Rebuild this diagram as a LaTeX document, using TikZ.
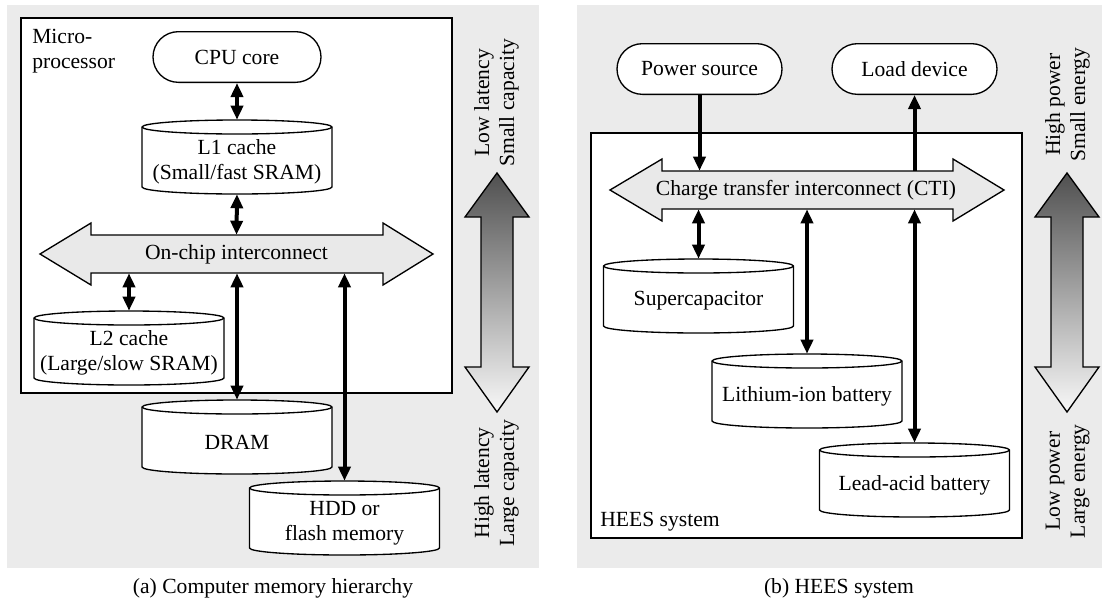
\documentclass[tikz,border=0pt]{standalone}
\usepackage{fontspec}
\setmainfont{Liberation Serif}
\usetikzlibrary{arrows.meta,shapes.misc}

\definecolor{panelgray}{HTML}{EBEBEB}
\definecolor{busgray}{HTML}{E9E9E9}
\definecolor{gradtop}{HTML}{505050}
\definecolor{gradbottom}{HTML}{F8F8F8}

% storage drum: #1 name, #2 centre x, #3 top y, #4 label
\newcommand\storagedrum[4]{%
  \draw[outline, fill=white] (#2-95,#3+7) -- (#2-95,#3+67)
    arc[start angle=180, end angle=360, x radius=71.25pt, y radius=5.25pt]
    -- (#2+95,#3+7)
    arc[start angle=0, end angle=180, x radius=71.25pt, y radius=5.25pt] -- cycle;
  \draw[outline] (#2-95,#3+7)
    arc[start angle=180, end angle=360, x radius=71.25pt, y radius=5.25pt];
  \node[drumbox] (#1) at (#2,#3+37) {};
  \node[txt] (#1-label) at (#2,#3+42) {#4};
}

\begin{document}
\begin{tikzpicture}[x=0.75pt, y=-0.75pt,
  font=\fontsize{16.2}{18.75}\selectfont,
  outline/.style={draw=black, line width=1pt},
  frame/.style={outline, fill=white},
  pill/.style={rounded rectangle, outline, fill=white, minimum height=38pt, inner xsep=0pt},
  drumbox/.style={minimum width=142.5pt, minimum height=55.5pt, inner sep=0pt},
  txt/.style={align=center, inner sep=0pt},
  busbox/.style={minimum height=28.5pt, inner sep=0pt},
  bus/.style={outline, fill=busgray, line join=miter},
  grad/.style={outline, top color=gradtop, bottom color=gradbottom, line join=miter},
  rot/.style={rotate=90, align=center, inner sep=0pt},
  twoway/.style={line width=3pt, {Triangle[width=9pt,length=10.5pt]}-{Triangle[width=9pt,length=10.5pt]}},
  oneway/.style={line width=3pt, -{Triangle[width=9pt,length=10.5pt]}}]

\useasboundingbox (0,0) rectangle (1102,604);

% panel backgrounds
\fill[panelgray] (7,5) rectangle (539,568);
\fill[panelgray] (577,5) rectangle (1102,568);

% ---------------- (a) memory hierarchy ----------------
\draw[frame] (21,18) rectangle (452,393);
\node[txt, anchor=west, align=left] (micro) at (32,51.5) {Micro-\\processor};

\draw[bus] (40,254) -- (91,223) -- (91,235) -- (383,235) -- (383,223) -- (433,254)
  -- (383,285) -- (383,273) -- (91,273) -- (91,285) -- cycle;
\node[busbox] (oci) at (236.5,254) {On-chip interconnect};

\node[pill, minimum width=126pt] (cpu) at (237,57) {CPU core};
\storagedrum{l1}{237}{120}{L1 cache\\(Small/fast SRAM)}
\storagedrum{l2}{129}{311}{L2 cache\\(Large/slow SRAM)}
\storagedrum{dram}{237}{400}{DRAM}
\storagedrum{hdd}{344.5}{481}{HDD or\\flash memory}

\draw[twoway] (cpu.south) -- (l1.north);
\draw[twoway] (l1.south) -- (oci.north);
\draw[twoway] (oci.south -| l2.north) -- (l2.north);
\draw[twoway] (oci.south -| dram.north) -- (dram.north);
\draw[twoway] (oci.south -| hdd.north) -- (hdd.north);

\draw[grad] (497,173) -- (529,217) -- (513,217) -- (513,367) -- (529,367) -- (497,412)
  -- (465,367) -- (481,367) -- (481,217) -- (465,217) -- cycle;
\node[rot, anchor=west] (fastlbl) at (496.5,167) {Low latency\\Small capacity};
\node[rot, anchor=east] (slowlbl) at (496.5,419) {High latency\\Large capacity};

\node[txt] (capa) at (273,588) {(a) Computer memory hierarchy};

% ---------------- (b) HEES system ----------------
\draw[frame] (591,133) rectangle (1022,538);
\node[txt, anchor=west] (hees) at (600,522) {HEES system};

\draw[bus] (610,190) -- (662,159) -- (662,171) -- (953,171) -- (953,159) -- (1004,190)
  -- (953,221) -- (953,209) -- (662,209) -- (662,221) -- cycle;
\node[busbox] (cti) at (806,190) {Charge transfer interconnect (CTI)};

\node[pill, minimum width=123.75pt] (src) at (699.5,69) {Power source};
\node[pill, minimum width=123.75pt] (load) at (914.5,69) {Load device};
\storagedrum{sc}{698.5}{259}{Supercapacitor}
\storagedrum{li}{807}{354}{Lithium-ion battery}
\storagedrum{pb}{914.5}{443}{Lead-acid battery}

\draw[oneway] (src.south) -- (src.south |- cti.north);
\draw[oneway] (load.south |- cti.north) -- (load.south);
\draw[twoway] (cti.south -| sc.north) -- (sc.north);
\draw[twoway] (cti.south -| li.north) -- (li.north);
\draw[twoway] (cti.south -| pb.north) -- (pb.north);

\draw[grad] (1067,173) -- (1099,217) -- (1083,217) -- (1083,367) -- (1099,367) -- (1067,412)
  -- (1035,367) -- (1051,367) -- (1051,217) -- (1035,217) -- cycle;
\node[rot, anchor=west] (hplbl) at (1067.5,162) {High power\\Small energy};
\node[rot, anchor=east] (lplbl) at (1067.5,424) {Low power\\Large energy};

\node[txt] (capb) at (839,588) {(b) HEES system};
\end{tikzpicture}
\end{document}
